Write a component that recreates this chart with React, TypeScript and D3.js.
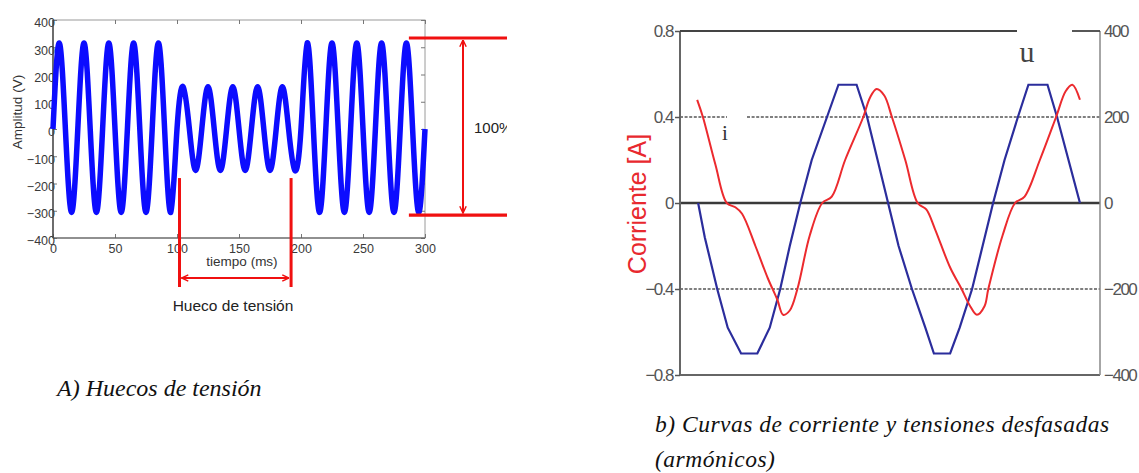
import React, { useEffect, useRef } from 'react';
import * as d3 from 'd3';

// A) Hueco de tension: samples at each peak / zero crossing (ms, V)
const sagTime = [0, 5, 10, 15, 20, 25, 30, 35, 40, 45, 50, 55, 60, 65, 70, 75, 80, 85, 90, 95,
  100, 105, 110, 115, 120, 125, 130, 135, 140, 145, 150, 155, 160, 165, 170, 175, 180, 185, 190, 195,
  200, 205, 210, 215, 220, 225, 230, 235, 240, 245, 250, 255, 260, 265, 270, 275, 280, 285, 290, 295, 300];
const sagVolt = [0, 316, 0, -306, 0, 316, 0, -306, 0, 316, 0, -306, 0, 316, 0, -306, 0, 316, 0, -306,
  0, 155, 0, -152, 0, 155, 0, -152, 0, 155, 0, -152, 0, 155, 0, -152, 0, 155, 0, -152,
  0, 316, 0, -306, 0, 316, 0, -306, 0, 316, 0, -306, 0, 316, 0, -306, 0, 316, 0, -306, 0];
const sagXTicks = [0, 50, 100, 150, 200, 250, 300];
const sagYTicks = [400, 300, 200, 100, 0, -100, -200, -300, -400];
const sagStart = 102;
const sagEnd = 192;
const refTop = 334;
const refBottom = -316;

// b) Corriente (A) y tension (V) vs tiempo (ms)
const uTime = [1.9, 2.6, 3.9, 5.0, 6.4, 8.1, 9.4, 10.5, 11.5, 12.6, 13.8, 15.4, 16.6, 18.5, 19.6, 20.7,
  21.8, 22.9, 24.3, 25.7, 26.6, 28.3, 29.3, 30.6, 31.7, 32.8, 34.0, 35.4, 36.5, 38.5, 39.5, 40.7, 41.9];
const uVolt = [0, -80, -200, -290, -350, -350, -290, -200, -100, 0, 100, 200, 275, 275, 200, 100,
  0, -100, -200, -290, -350, -350, -290, -200, -100, 0, 100, 200, 275, 275, 200, 100, 0];
const iTime = [1.8, 2.4, 3.7, 4.9, 5.8, 6.5, 7.9, 9.2, 10.2, 10.8, 11.5, 12.3, 13.6, 14.9, 15.9, 17.3,
  19.2, 19.9, 20.6, 21.4, 22.2, 23.6, 24.9, 25.8, 26.7, 28.3, 29.5, 30.4, 31.1, 31.9, 32.3, 33.8,
  35.1, 36.1, 37.7, 39.4, 40.4, 41.1, 41.9];
const iAmp = [0.48, 0.40, 0.18, 0.0, -0.02, -0.05, -0.20, -0.35, -0.45, -0.52, -0.50, -0.40, -0.15, 0.0, 0.03, 0.20,
  0.40, 0.49, 0.53, 0.50, 0.40, 0.20, 0.0, -0.03, -0.12, -0.30, -0.40, -0.48, -0.52, -0.48, -0.40, -0.15,
  0.0, 0.03, 0.20, 0.40, 0.52, 0.55, 0.48];
const iTicks = [0.8, 0.4, 0, -0.4, -0.8];
const uTicks = [400, 200, 0, -200, -400];

const SANS = 'Liberation Sans, Arial, sans-serif';
const SERIF = 'Liberation Serif, Times New Roman, serif';

const App = () => {
  const ref = useRef<SVGSVGElement>(null);

  useEffect(() => {
    const svg = d3.select(ref.current);
    svg.selectAll('*').remove();

    const defs = svg.append('defs');
    defs.append('clipPath').attr('id', 'cropA')
      .append('rect').attr('x', 0).attr('y', 0).attr('width', 507).attr('height', 473);
    defs.append('marker')
      .attr('id', 'arr').attr('viewBox', '0 0 10 10').attr('refX', 9.5).attr('refY', 5)
      .attr('markerWidth', 8).attr('markerHeight', 8).attr('orient', 'auto-start-reverse')
      .attr('markerUnits', 'userSpaceOnUse')
      .append('path').attr('d', 'M1,1L9.5,5L1,9').attr('fill', 'none')
      .attr('stroke', '#f01010').attr('stroke-width', 1.8);

    // ---------- A) ----------
    const a = svg.append('g').attr('clip-path', 'url(#cropA)');
    const xL = d3.scaleLinear().domain([0, 300]).range([53, 425]);
    const yL = d3.scaleLinear().domain([-400, 400]).range([238, 20]);

    a.append('rect')
      .attr('x', xL(0)).attr('y', yL(400))
      .attr('width', xL(300) - xL(0)).attr('height', yL(-400) - yL(400))
      .attr('fill', '#fff').attr('stroke', '#9a9a9a').attr('stroke-width', 1);

    const axB = a.append('g').attr('transform', `translate(0,${yL(-400)})`)
      .call(d3.axisBottom(xL).tickValues(sagXTicks).tickSize(-4).tickPadding(6));
    const axT = a.append('g').attr('transform', `translate(0,${yL(400)})`)
      .call(d3.axisTop(xL).tickValues(sagXTicks).tickSize(-4).tickFormat(() => ''));
    const axL = a.append('g').attr('transform', `translate(${xL(0)},0)`)
      .call(d3.axisLeft(yL).tickValues(sagYTicks).tickSize(-4).tickPadding(-2));
    const axR = a.append('g').attr('transform', `translate(${xL(300)},0)`)
      .call(d3.axisRight(yL).tickValues(sagYTicks).tickSize(-4).tickFormat(() => ''));
    [axB, axT, axL, axR].forEach(g => {
      g.select('.domain').remove();
      g.selectAll('line').attr('stroke', '#777');
      g.selectAll('text').attr('fill', '#3a3a3a').attr('font-size', 12.5).attr('font-family', SANS);
    });
    axL.selectAll('text').attr('dy', '0.55em');

    a.append('line').attr('x1', xL(0)).attr('x2', xL(0)).attr('y1', yL(400)).attr('y2', yL(-400))
      .attr('stroke', '#444').attr('stroke-width', 1.4);
    a.append('line').attr('x1', xL(0)).attr('x2', xL(300)).attr('y1', yL(-400)).attr('y2', yL(-400))
      .attr('stroke', '#555').attr('stroke-width', 1.2);

    const sagLine = d3.line<number>()
      .x((d, i) => xL(sagTime[i]))
      .y(d => yL(d))
      .curve(d3.curveNatural);
    a.append('path').attr('d', sagLine(sagVolt))
      .attr('fill', 'none').attr('stroke', '#0c0cff').attr('stroke-width', 5.5)
      .attr('stroke-linejoin', 'round');

    a.append('text').attr('transform', `translate(22,112) rotate(-90)`)
      .attr('text-anchor', 'middle').attr('font-size', 13.5).attr('font-family', SANS).attr('fill', '#333')
      .text('Amplitud (V)');
    a.append('text').attr('x', 242).attr('y', 266)
      .attr('text-anchor', 'middle').attr('font-size', 13.5).attr('font-family', SANS).attr('fill', '#333')
      .text('tiempo (ms)');

    // sag markers
    const red = '#f01010';
    [sagStart, sagEnd].forEach(t => {
      a.append('line').attr('x1', xL(t)).attr('x2', xL(t)).attr('y1', yL(-180)).attr('y2', 287)
        .attr('stroke', red).attr('stroke-width', 3);
    });
    a.append('line').attr('x1', xL(sagStart) + 2).attr('x2', xL(sagEnd) - 2).attr('y1', 278).attr('y2', 278)
      .attr('stroke', red).attr('stroke-width', 2)
      .attr('marker-start', 'url(#arr)').attr('marker-end', 'url(#arr)');
    a.append('text').attr('x', 233).attr('y', 311)
      .attr('text-anchor', 'middle').attr('font-size', 15.5).attr('font-family', SANS).attr('fill', '#222')
      .text('Hueco de tensión');

    // 100% reference
    [refTop, refBottom].forEach(v => {
      a.append('line').attr('x1', xL(287)).attr('x2', 520).attr('y1', yL(v)).attr('y2', yL(v))
        .attr('stroke', red).attr('stroke-width', 3.2);
    });
    a.append('line').attr('x1', 463).attr('x2', 463).attr('y1', yL(refTop) + 2).attr('y2', yL(refBottom) - 2)
      .attr('stroke', red).attr('stroke-width', 2)
      .attr('marker-start', 'url(#arr)').attr('marker-end', 'url(#arr)');
    a.append('text').attr('x', 474).attr('y', 133)
      .attr('font-size', 15).attr('font-family', SANS).attr('fill', '#222')
      .text('100%');

    svg.append('text').attr('x', 57).attr('y', 396)
      .attr('font-size', 24).attr('font-style', 'italic').attr('font-family', SERIF).attr('fill', '#111')
      .text('A) Huecos de tensión');

    // ---------- b) ----------
    const b = svg.append('g');
    const xR = d3.scaleLinear().domain([0, 44]).range([680, 1100]);
    const yI = d3.scaleLinear().domain([-0.8, 0.8]).range([375, 31]);
    const yU = d3.scaleLinear().domain([-400, 400]).range([375, 31]);

    // grid at +-0.4
    const dash = '3,1.6';
    b.append('line').attr('x1', xR(0)).attr('x2', 727).attr('y1', yI(0.4)).attr('y2', yI(0.4))
      .attr('stroke', '#555').attr('stroke-width', 1.6).attr('stroke-dasharray', dash);
    b.append('line').attr('x1', 747).attr('x2', xR(44)).attr('y1', yI(0.4)).attr('y2', yI(0.4))
      .attr('stroke', '#555').attr('stroke-width', 1.6).attr('stroke-dasharray', dash);
    b.append('line').attr('x1', xR(0)).attr('x2', xR(44)).attr('y1', yI(-0.4)).attr('y2', yI(-0.4))
      .attr('stroke', '#555').attr('stroke-width', 1.6).attr('stroke-dasharray', dash);
    b.append('line').attr('x1', xR(0)).attr('x2', xR(44)).attr('y1', yI(0)).attr('y2', yI(0))
      .attr('stroke', '#3a3a3a').attr('stroke-width', 2.6);

    // frame
    const frame = '#666';
    b.append('line').attr('x1', xR(0)).attr('x2', xR(0)).attr('y1', yI(0.8)).attr('y2', yI(-0.8))
      .attr('stroke', frame).attr('stroke-width', 2);
    b.append('line').attr('x1', xR(0)).attr('x2', xR(44)).attr('y1', yI(-0.8)).attr('y2', yI(-0.8))
      .attr('stroke', frame).attr('stroke-width', 2);
    b.append('line').attr('x1', xR(44)).attr('x2', xR(44)).attr('y1', yI(0.8)).attr('y2', yI(-0.8))
      .attr('stroke', '#888').attr('stroke-width', 1.5);
    b.append('line').attr('x1', xR(0)).attr('x2', 1017).attr('y1', yI(0.8)).attr('y2', yI(0.8))
      .attr('stroke', '#444').attr('stroke-width', 1.8);
    b.append('line').attr('x1', 1072).attr('x2', xR(44)).attr('y1', yI(0.8)).attr('y2', yI(0.8))
      .attr('stroke', '#444').attr('stroke-width', 1.8);

    const axI = b.append('g').attr('transform', `translate(${xR(0)},0)`)
      .call(d3.axisLeft(yI).tickValues(iTicks).tickSize(5).tickPadding(2)
        .tickFormat(d => (+d === 0 ? '0' : d3.format('.1f')(+d))));
    const axU = b.append('g').attr('transform', `translate(${xR(44)},0)`)
      .call(d3.axisRight(yU).tickValues(uTicks).tickSize(0).tickPadding(4));
    [axI, axU].forEach(g => {
      g.select('.domain').remove();
      g.selectAll('line').attr('stroke', '#555').attr('stroke-width', 1.5);
      g.selectAll('text').attr('fill', '#555').attr('font-size', 17).attr('font-family', SANS)
        .attr('letter-spacing', -1.5);
    });

    const uLine = d3.line<number>().x((d, i) => xR(uTime[i])).y(d => yU(d));
    b.append('path').attr('d', uLine(uVolt))
      .attr('fill', 'none').attr('stroke', '#2b2d9c').attr('stroke-width', 2.2);
    const iLine = d3.line<number>().x((d, i) => xR(iTime[i])).y(d => yI(d))
      .curve(d3.curveCatmullRom.alpha(0.5));
    b.append('path').attr('d', iLine(iAmp))
      .attr('fill', 'none').attr('stroke', '#ec2a2e').attr('stroke-width', 2);

    b.append('text').attr('x', 725).attr('y', 140).attr('text-anchor', 'middle')
      .attr('font-size', 21).attr('font-family', SERIF).attr('fill', '#333').text('i');
    b.append('text').attr('x', 1027).attr('y', 62).attr('text-anchor', 'middle')
      .attr('font-size', 30).attr('font-family', SERIF).attr('fill', '#444').text('u');

    b.append('text').attr('transform', `translate(646,204) rotate(-90)`)
      .attr('text-anchor', 'middle').attr('font-size', 25).attr('font-family', SANS).attr('fill', '#e8282e')
      .text('Corriente [A]');

    svg.append('text').attr('x', 655).attr('y', 432)
      .attr('font-size', 23.5).attr('font-style', 'italic').attr('font-family', SERIF).attr('fill', '#111')
      .attr('letter-spacing', 0.5)
      .text('b) Curvas de corriente y tensiones desfasadas');
    svg.append('text').attr('x', 655).attr('y', 467)
      .attr('font-size', 23.5).attr('font-style', 'italic').attr('font-family', SERIF).attr('fill', '#111')
      .attr('letter-spacing', 0.5)
      .text('(armónicos)');
  }, []);

  return (
    <svg ref={ref} width={1139} height={473}
      style={{ position: 'absolute', left: 0, top: 0, background: '#fff', display: 'block' }} />
  );
};

export default App;
